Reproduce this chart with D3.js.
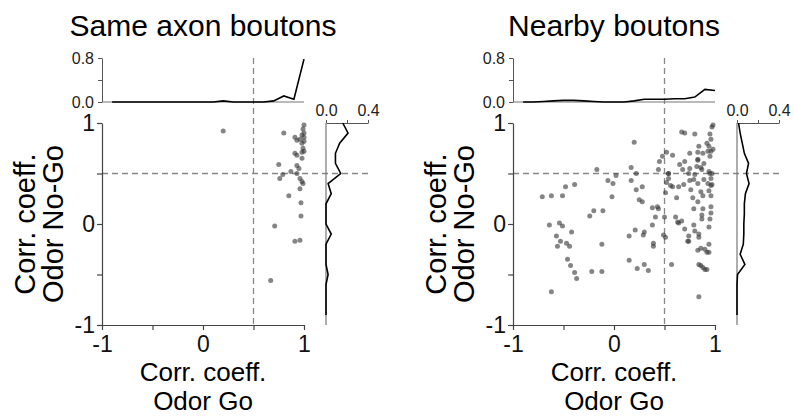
<!DOCTYPE html>
<html>
<head>
<meta charset="utf-8">
<script src="https://cdn.jsdelivr.net/npm/d3@7"></script>
<style>
  body { margin: 0; background: #fff; }
  svg { font-family: "Liberation Sans", Arial, sans-serif; }
</style>
</head>
<body>
<div id="chart"></div>
<script>
// bin centres shared by both marginal histograms
const bins = [-0.9, -0.8, -0.7, -0.6, -0.5, -0.4, -0.3, -0.2, -0.1, 0.0, 0.1, 0.2, 0.3, 0.4, 0.5, 0.6, 0.7, 0.8, 0.9, 1.0]

const titles = ["Same axon boutons", "Nearby boutons"]
const scatterTicks = [-1, -0.5, 0, 0.5, 1]
const scatterLabels = [-1, 0, 1]
const topTicks = [0, 0.4, 0.8]
const topLabels = [0, 0.8]
const sideTicks = [0, 0.2, 0.4]
const sideLabels = [0, 0.4]
const threshold = 0.5

// same axon: [odor go, odor no-go]
const samePoints = [
  [0.20, 0.92], [0.80, 0.90], [1.00, 0.98], [0.99, 0.94], [1.00, 0.90], [0.98, 0.88],
  [1.00, 0.86], [0.96, 0.84], [1.00, 0.82], [0.98, 0.80], [0.91, 0.86], [0.93, 0.83],
  [0.91, 0.70], [0.93, 0.68], [0.99, 0.75], [1.00, 0.72], [0.98, 0.71], [0.98, 0.65],
  [0.75, 0.59], [0.93, 0.58], [0.95, 0.55], [0.87, 0.52], [0.79, 0.49], [0.93, 0.50],
  [0.76, 0.45], [0.96, 0.45], [0.98, 0.42], [0.99, 0.40], [0.96, 0.35], [0.85, 0.28],
  [0.97, 0.21], [0.97, 0.08], [0.71, -0.02], [0.91, -0.17], [0.96, -0.16], [0.67, -0.56]
]
const sameTop = [0, 0, 0, 0, 0, 0, 0, 0, 0, 0, 0, 0.02, 0, 0, 0, 0, 0.02, 0.11, 0.05, 0.78]
// side histogram, same bin order as bins (y value)
const sameSide = [0, 0, 0, 0, 0.02, 0, 0, 0, 0.05, 0, 0, 0, 0.05, 0.02, 0.14, 0.09, 0.09, 0.13, 0.21, 0.16]

// nearby boutons
const nearPoints = [
  [-0.71, 0.27], [-0.62, 0.28], [-0.51, 0.28], [-0.48, 0.37], [-0.39, 0.39], [-0.64, -0.01],
  [-0.54, 0.01], [-0.51, -0.02], [-0.57, -0.12], [-0.53, -0.17], [-0.56, -0.22], [-0.47, -0.19],
  [-0.44, -0.22], [-0.42, -0.08], [-0.46, -0.35], [-0.43, -0.41], [-0.39, -0.48], [-0.37, -0.54],
  [-0.62, -0.67],
  [-0.17, 0.54], [-0.06, 0.43], [-0.01, 0.40], [0.02, 0.48], [-0.02, 0.27], [-0.24, 0.08],
  [-0.20, 0.13], [-0.11, 0.13], [-0.12, -0.20], [-0.22, -0.47], [-0.12, -0.47], [0.20, 0.81],
  [0.17, 0.56], [0.22, 0.50], [0.17, 0.43], [0.22, 0.34], [0.28, 0.37], [0.25, 0.24],
  [0.28, 0.22], [0.15, -0.12], [0.21, -0.06], [0.30, -0.08], [0.29, -0.11], [0.38, -0.01],
  [0.41, 0.07], [0.38, 0.16], [0.43, 0.17], [0.44, 0.15], [0.15, -0.36], [0.23, -0.44],
  [0.30, -0.40], [0.34, -0.46], [0.39, -0.19], [0.39, -0.22],
  [0.44, 0.54], [0.45, 0.62], [0.48, 0.67], [0.52, 0.71], [0.50, 0.07], [0.49, -0.11],
  [0.51, -0.13], [0.51, 0.31], [0.54, 0.50], [0.54, 0.45], [0.52, 0.41], [0.58, 0.68],
  [0.57, -0.40], [0.56, 0.38], [0.58, 0.37],
  [0.67, 0.91], [0.70, 0.90], [0.80, 0.89], [0.95, 0.89], [0.97, 0.96], [0.98, 0.98],
  [0.96, 0.84], [0.92, 0.80], [0.94, 0.77], [0.93, 0.72], [0.96, 0.72], [0.98, 0.74],
  [0.84, 0.77], [0.83, 0.71], [0.75, 0.70], [0.88, 0.70], [0.95, 0.67], [0.83, 0.64],
  [0.89, 0.60], [0.70, 0.62], [0.65, 0.59], [0.68, 0.54], [0.75, 0.55], [0.82, 0.57],
  [0.87, 0.54], [0.94, 0.52], [0.97, 0.50], [0.74, 0.50], [0.80, 0.49], [0.96, 0.45],
  [0.89, 0.44], [0.79, 0.44], [0.75, 0.43], [0.83, 0.40], [0.97, 0.39], [0.93, 0.40],
  [0.69, 0.39], [0.64, 0.37], [0.76, 0.34], [0.86, 0.32], [0.78, 0.26], [0.88, 0.28],
  [0.94, 0.33], [0.96, 0.28], [0.83, 0.22], [0.62, 0.26], [0.79, 0.15], [0.88, 0.15],
  [0.96, 0.17], [0.87, 0.09], [0.87, 0.05], [0.96, 0.11], [0.95, 0.05], [0.61, 0.07],
  [0.63, 0.02], [0.67, 0.03], [0.64, 0.01], [0.94, -0.03], [0.79, -0.01], [0.70, -0.05],
  [0.80, -0.07], [0.84, -0.10], [0.74, -0.12], [0.74, -0.17], [0.84, -0.13], [0.73, -0.17],
  [0.83, -0.26], [0.86, -0.24], [0.90, -0.25], [0.92, -0.28], [0.94, -0.28], [0.94, -0.20],
  [0.84, -0.40], [0.86, -0.41], [0.88, -0.43], [0.90, -0.45], [0.92, -0.45], [0.84, -0.72],
  [0.54, 0.50], [0.83, 0.63], [0.86, 0.56], [0.95, 0.50], [0.96, 0.38]
]
const nearTop = [0, 0, 0.01, 0.02, 0.03, 0.03, 0.02, 0.01, 0, 0, 0, 0.02, 0.05, 0.05, 0.05, 0.06, 0.06, 0.09, 0.23, 0.21]
const nearSide = [0, 0, 0, 0, 0.005, 0.075, 0.03, 0.06, 0.065, 0.065, 0.07, 0.07, 0.08, 0.115, 0.09, 0.11, 0.07, 0.05, 0.03, 0.015]

const width = 794
const height = 416

const svg = d3.select("#chart")
  .append("svg")
  .attr("width", width)
  .attr("height", height)

function drawPanel(dx, title, points, top, side) {
  const g = svg.append("g").attr("transform", `translate(${dx},0)`)

  const x = d3.scaleLinear().domain([-1, 1]).range([102, 304])
  const y = d3.scaleLinear().domain([-1, 1]).range([325, 123])
  const yTop = d3.scaleLinear().domain([0, 0.8]).range([102, 58])
  const xSide = d3.scaleLinear().domain([0, 0.4]).range([326, 368])

  // dashed threshold lines
  g.append("line")
    .attr("x1", x(threshold)).attr("x2", x(threshold))
    .attr("y1", yTop(0.8)).attr("y2", y(-1))
    .attr("stroke", "#888").attr("stroke-width", 1.3).attr("stroke-dasharray", "6,4")
  g.append("line")
    .attr("x1", x(-1)).attr("x2", xSide(0.4))
    .attr("y1", y(threshold)).attr("y2", y(threshold))
    .attr("stroke", "#888").attr("stroke-width", 1.3).attr("stroke-dasharray", "6,4")

  // scatter axes (plain hyphen for minus, as in the figure)
  const fmt = d => scatterLabels.includes(d) ? String(d) : ""
  const left = g.append("g")
    .attr("transform", `translate(${x(-1)},0)`)
    .call(d3.axisLeft(y).tickValues(scatterTicks).tickSize(5).tickSizeOuter(0).tickPadding(2).tickFormat(fmt))
  const bottom = g.append("g")
    .attr("transform", `translate(0,${y(-1)})`)
    .call(d3.axisBottom(x).tickValues(scatterTicks).tickSize(5).tickSizeOuter(0).tickPadding(6).tickFormat(fmt))
  ;[left, bottom].forEach(a => {
    a.selectAll("path, line").attr("stroke", "#444").attr("stroke-width", 1.2)
    a.selectAll("text").attr("font-size", 23).attr("fill", "#111")
      .attr("font-family", "Liberation Sans, Arial, sans-serif")
  })

  // points
  g.append("g")
    .selectAll("circle")
    .data(points)
    .enter()
      .append("circle")
      .attr("cx", d => x(d[0]))
      .attr("cy", d => y(d[1]))
      .attr("r", 2.5)
      .attr("fill", "#333")
      .attr("fill-opacity", 0.6)

  // top marginal
  const topAxis = g.append("g")
    .attr("transform", `translate(${x(-1)},0)`)
    .call(d3.axisLeft(yTop).tickValues(topTicks).tickSize(4).tickSizeOuter(0).tickPadding(4)
      .tickFormat(d => topLabels.includes(d) ? d3.format(".1f")(d) : ""))
  topAxis.selectAll("path, line").attr("stroke", "#555")
  topAxis.selectAll("text").attr("font-size", 16).attr("fill", "#222")
    .attr("font-family", "Liberation Sans, Arial, sans-serif")
  g.append("line")
    .attr("x1", x(-1)).attr("x2", x(1))
    .attr("y1", yTop(0)).attr("y2", yTop(0))
    .attr("stroke", "#777").attr("stroke-width", 1.2)
  g.append("path")
    .datum(top)
    .attr("d", d3.line().x((d, i) => x(bins[i])).y(d => yTop(d)))
    .attr("fill", "none")
    .attr("stroke", "#000")
    .attr("stroke-width", 1.6)

  // side marginal
  const sideAxis = g.append("g")
    .attr("transform", `translate(0,${y(1)})`)
    .call(d3.axisTop(xSide).tickValues(sideTicks).tickSize(3).tickSizeOuter(0).tickPadding(4)
      .tickFormat(d => sideLabels.includes(d) ? d3.format(".1f")(d) : ""))
  sideAxis.selectAll("path, line").attr("stroke", "#555")
  sideAxis.selectAll("text").attr("font-size", 16).attr("fill", "#222")
    .attr("font-family", "Liberation Sans, Arial, sans-serif")
  g.append("line")
    .attr("x1", xSide(0)).attr("x2", xSide(0))
    .attr("y1", y(1)).attr("y2", y(-1))
    .attr("stroke", "#777").attr("stroke-width", 1.2)
  g.append("path")
    .datum(side)
    .attr("d", d3.line().x(d => xSide(d)).y((d, i) => y(bins[i])))
    .attr("fill", "none")
    .attr("stroke", "#000")
    .attr("stroke-width", 1.6)

  // titles and labels
  const cx = (x(-1) + x(1)) / 2
  g.append("text")
    .attr("x", cx).attr("y", 36)
    .attr("text-anchor", "middle").attr("font-size", 30).attr("fill", "#000")
    .text(title)
  g.append("text")
    .attr("x", cx).attr("y", 381)
    .attr("text-anchor", "middle").attr("font-size", 26).attr("fill", "#000")
    .text("Corr. coeff.")
  g.append("text")
    .attr("x", cx).attr("y", 410)
    .attr("text-anchor", "middle").attr("font-size", 26).attr("fill", "#000")
    .text("Odor Go")
  const cy = (y(-1) + y(1)) / 2
  g.append("text")
    .attr("transform", `translate(35,${cy}) rotate(-90)`)
    .attr("text-anchor", "middle").attr("font-size", 29).attr("fill", "#000")
    .text("Corr. coeff.")
  g.append("text")
    .attr("transform", `translate(63,${cy}) rotate(-90)`)
    .attr("text-anchor", "middle").attr("font-size", 29).attr("fill", "#000")
    .text("Odor No-Go")
}

drawPanel(0, titles[0], samePoints, sameTop, sameSide)
drawPanel(411, titles[1], nearPoints, nearTop, nearSide)
</script>
</body>
</html>
